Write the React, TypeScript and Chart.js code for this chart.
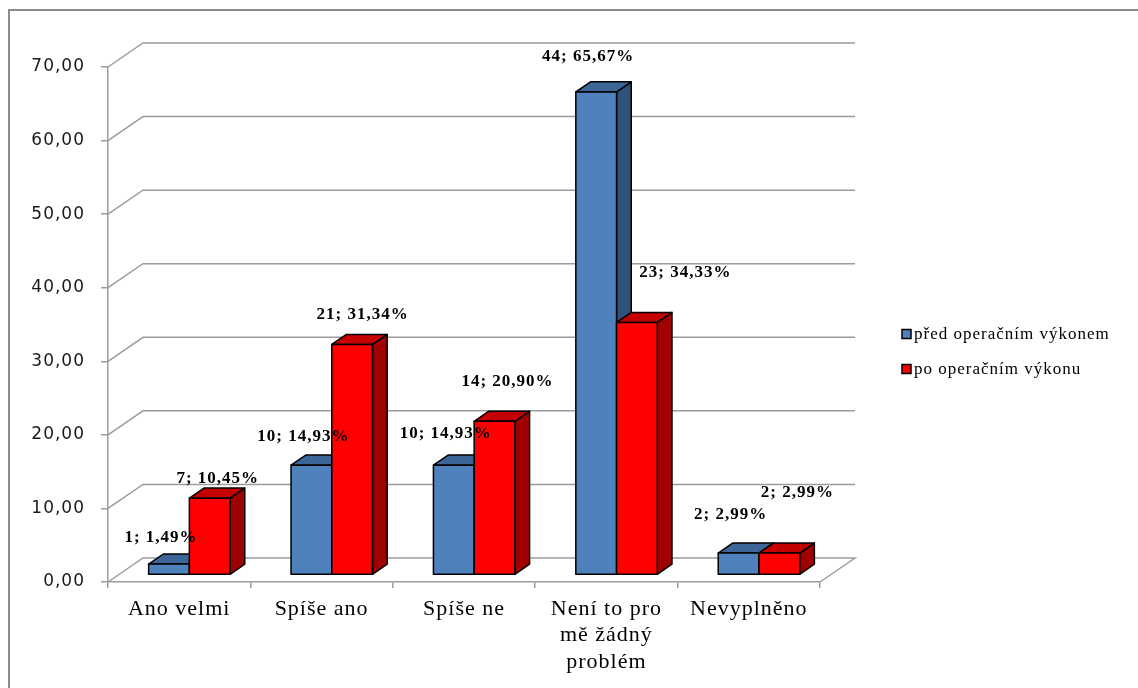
import { useEffect, useRef } from 'react';
import { Chart, registerables } from 'chart.js';

Chart.register(...registerables);

const categories: (string | string[])[] = [
  'Ano velmi',
  'Spíše ano',
  'Spíše ne',
  ['Není to pro', 'mě žádný', 'problém'],
  'Nevyplněno',
];
const seriesNames = ['před operačním výkonem', 'po operačním výkonu'];
const beforeCounts = [1, 10, 10, 44, 2];
const beforePercent = [1.49, 14.93, 14.93, 65.67, 2.99];
const afterCounts = [7, 21, 14, 23, 2];
const afterPercent = [10.45, 31.34, 20.9, 34.33, 2.99];
const yMax = 70;
const yStep = 10;

const DEPTH_X = 35;
const DEPTH_Y = -24;
const BAR_OFFSET = 0.29;
const BAR_DEPTH = 0.42;
const GRID_COLOR = '#9c9c9c';

const palette = [
  { front: '#4F81BD', top: '#3D6698', side: '#31527B' },
  { front: '#FF0000', top: '#C40000', side: '#A00000' },
];

const fmt = (v: number) => v.toFixed(2).replace('.', ',');

// label placement rule (perspective-like drift per category index)
const labelOffset = (d: number, c: number) =>
  d === 0 ? { dx: -8, dy: -26 - 3 * c } : { dx: 8 + 2.5 * c, dy: -20 - 10 * c };

const threeD = {
  id: 'threeD',
  beforeDraw(chart: any) {
    const ctx = chart.ctx;
    ctx.letterSpacing = '1px';
    ctx.save();
    ctx.strokeStyle = '#8c8c8c';
    ctx.lineWidth = 2;
    ctx.strokeRect(9, 10, chart.width + 20, chart.height + 20);
    ctx.restore();
  },
  beforeDatasetsDraw(chart: any) {
    const ctx = chart.ctx;
    const y = chart.scales.y;
    const { left, right } = chart.chartArea;
    ctx.save();
    ctx.strokeStyle = GRID_COLOR;
    ctx.lineWidth = 1.5;
    y.ticks.forEach((t: any) => {
      const py = y.getPixelForValue(t.value);
      ctx.beginPath();
      ctx.moveTo(left, py);
      ctx.lineTo(left + DEPTH_X, py + DEPTH_Y);
      ctx.lineTo(right + DEPTH_X, py + DEPTH_Y);
      if (t.value === 0) {
        ctx.lineTo(right, py);
      }
      ctx.stroke();
    });
    ctx.restore();
  },
  afterDatasetsDraw(chart: any) {
    const ctx = chart.ctx;
    const ox = DEPTH_X * BAR_OFFSET;
    const oy = DEPTH_Y * BAR_OFFSET;
    const bx = DEPTH_X * BAR_DEPTH;
    const by = DEPTH_Y * BAR_DEPTH;
    const n = chart.data.labels.length;
    const metas = chart.data.datasets.map((_: any, i: number) => chart.getDatasetMeta(i));
    ctx.save();
    ctx.lineJoin = 'round';
    for (let c = 0; c < n; c++) {
      metas.forEach((meta: any, d: number) => {
        const el = meta.data[c];
        const p = el.getProps(['x', 'y', 'base', 'width'], true);
        const x0 = p.x - p.width / 2 + ox;
        const x1 = p.x + p.width / 2 + ox;
        const yt = p.y + oy;
        const yb = p.base + oy;
        const col = palette[d];
        ctx.strokeStyle = '#000';
        ctx.lineWidth = 1.5;
        ctx.beginPath();
        ctx.moveTo(x1, yt);
        ctx.lineTo(x1 + bx, yt + by);
        ctx.lineTo(x1 + bx, yb + by);
        ctx.lineTo(x1, yb);
        ctx.closePath();
        ctx.fillStyle = col.side;
        ctx.fill();
        ctx.stroke();
        ctx.beginPath();
        ctx.moveTo(x0, yt);
        ctx.lineTo(x0 + bx, yt + by);
        ctx.lineTo(x1 + bx, yt + by);
        ctx.lineTo(x1, yt);
        ctx.closePath();
        ctx.fillStyle = col.top;
        ctx.fill();
        ctx.stroke();
        ctx.beginPath();
        ctx.rect(x0, yt, x1 - x0, yb - yt);
        ctx.fillStyle = col.front;
        ctx.fill();
        ctx.stroke();
      });
    }
    ctx.font = 'bold 17px "Liberation Serif", "Times New Roman", serif';
    ctx.fillStyle = '#000';
    ctx.textAlign = 'center';
    ctx.textBaseline = 'middle';
    ctx.letterSpacing = '1px';
    const counts = [beforeCounts, afterCounts];
    const pcts = [beforePercent, afterPercent];
    metas.forEach((meta: any, d: number) => {
      meta.data.forEach((el: any, c: number) => {
        const p = el.getProps(['x', 'y', 'width'], true);
        const txt = `${counts[d][c]}; ${fmt(pcts[d][c])}%`;
        const w = ctx.measureText(txt).width;
        const off = labelOffset(d, c);
        let cx = p.x + ox + off.dx;
        const cy = p.y + oy + off.dy;
        // keep a right-series label clear of a taller left neighbour
        if (d > 0) {
          const prev = metas[d - 1].data[c].getProps(['x', 'y', 'width'], true);
          const prevTop = prev.y + oy + by;
          const prevRight = prev.x + prev.width / 2 + ox + bx;
          if (prevTop < cy && cx - w / 2 < prevRight + 8) {
            cx = prevRight + 8 + w / 2;
          }
        }
        ctx.fillText(txt, cx, cy);
      });
    });
    ctx.restore();
  },
  afterDraw(chart: any) {
    const ctx = chart.ctx;
    ctx.save();
    ctx.font = '17px "Liberation Serif", "Times New Roman", serif';
    ctx.letterSpacing = '1px';
    ctx.textAlign = 'left';
    ctx.textBaseline = 'middle';
    const lx = 902;
    const ys = [334, 369];
    seriesNames.forEach((name, i) => {
      ctx.fillStyle = palette[i].front;
      ctx.fillRect(lx, ys[i] - 4.5, 9, 9);
      ctx.strokeStyle = '#000';
      ctx.lineWidth = 1.5;
      ctx.strokeRect(lx, ys[i] - 4.5, 9, 9);
      ctx.fillStyle = '#000';
      ctx.fillText(name, lx + 12, ys[i] + 1);
    });
    ctx.restore();
  },
};

export default function App() {
  const ref = useRef<HTMLCanvasElement | null>(null);
  useEffect(() => {
    document.body.style.margin = '0';
    const canvas = ref.current!;
    const chart = new Chart(canvas, {
      type: 'bar',
      data: {
        labels: categories,
        datasets: [
          {
            label: seriesNames[0],
            data: beforePercent,
            backgroundColor: 'rgba(0,0,0,0)',
            borderWidth: 0,
            categoryPercentage: 0.572,
            barPercentage: 1,
          },
          {
            label: seriesNames[1],
            data: afterPercent,
            backgroundColor: 'rgba(0,0,0,0)',
            borderWidth: 0,
            categoryPercentage: 0.572,
            barPercentage: 1,
          },
        ],
      },
      options: {
        responsive: false,
        animation: false,
        devicePixelRatio: 1,
        layout: { padding: { top: 67, right: 318, left: 0, bottom: 0 } },
        plugins: {
          legend: { display: false },
          tooltip: { enabled: false },
        },
        scales: {
          x: {
            grid: {
              display: true,
              drawOnChartArea: false,
              drawTicks: true,
              tickLength: 6,
              color: GRID_COLOR,
              lineWidth: 1.5,
              offset: true,
            },
            border: { display: true, color: GRID_COLOR, width: 1.5 },
            ticks: {
              color: '#000',
              padding: 8,
              maxRotation: 0,
              autoSkip: false,
              font: { family: '"Liberation Serif", "Times New Roman", serif', size: 22, lineHeight: 1.2 },
            },
            afterFit(scale: any) {
              scale.height = 106;
            },
          },
          y: {
            min: 0,
            max: yMax,
            grid: {
              display: true,
              drawOnChartArea: false,
              drawTicks: true,
              tickLength: 7,
              color: GRID_COLOR,
              lineWidth: 1.5,
            },
            border: { display: true, color: GRID_COLOR, width: 1.5 },
            ticks: {
              stepSize: yStep,
              color: '#1a1a1a',
              padding: 16,
              font: { family: '"DejaVu Sans", Verdana, sans-serif', size: 17 },
              callback: (v: any) => fmt(Number(v)),
            },
            afterFit(scale: any) {
              scale.width = 108;
            },
          },
        },
      },
      plugins: [threeD],
    });
    return () => chart.destroy();
  }, []);
  return <canvas ref={ref} width={1138} height={688} style={{ display: 'block' }} />;
}
